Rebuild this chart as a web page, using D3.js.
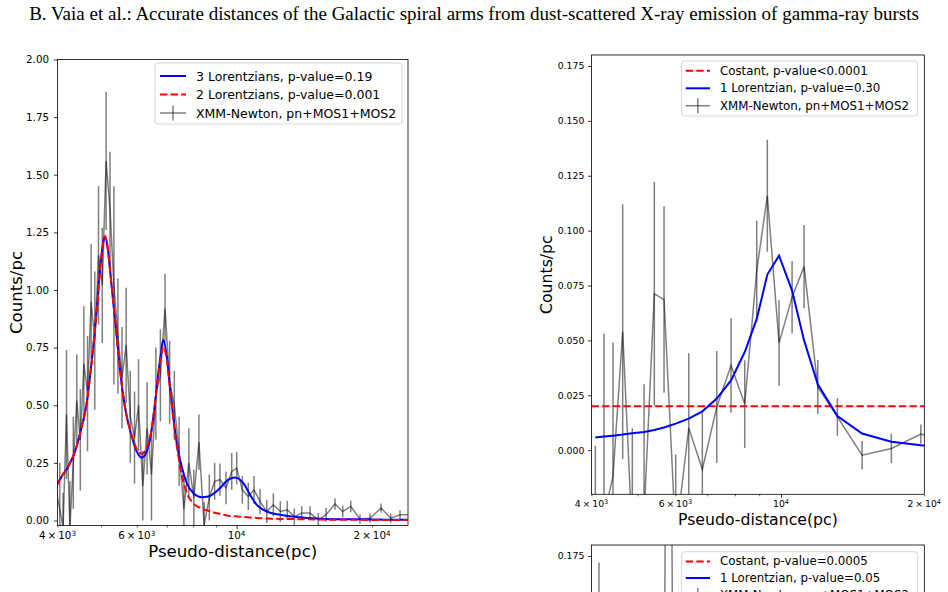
<!DOCTYPE html>
<meta charset="utf-8">
<style>

body {
  margin: 0;
  background: #fff;
}

svg {
  display: block;
  font-family: "DejaVu Sans", sans-serif;
}

.title {
  font-family: "Liberation Serif", "Times New Roman", serif;
}

</style>
<svg width="948" height="592"></svg>
<script src="https://d3js.org/d3.v7.min.js"></script>
<script>

// Left panel: XMM-Newton profile, fitted with 2 and 3 Lorentzians
var leftDist = [3980, 4047, 4116, 4188, 4262, 4337, 4415, 4495, 4578, 4664, 4751, 4841, 4934,
  5030, 5129, 5233, 5338, 5449, 5564, 5683, 5805, 5932, 6054, 6188, 6326, 6470,
  6617, 6771, 6934, 7099, 7271, 7452, 7637, 7831, 8035, 8247, 8470, 8698, 8937,
  9184, 9472, 9754, 10006, 10298, 10618, 10933, 11274, 11668, 12068, 12506, 12962, 13435,
  13954, 14560, 15192, 15808, 16547, 17213, 17930, 18805, 19791, 20945, 22002, 23075, 24400];
var leftCounts = [0.12, 0.05, -0.03, 0.46, -0.03, 0.25, 0.52, 0.35, 0.68, 0.55, 0.95, 0.78, 1.15,
  1.02, 1.56, 1.35, 1.02, 0.80, 0.62, 0.76, 0.45, 0.36, 0.50, 0.15, 0.40, 0.20,
  0.55, 0.63, 0.92, 0.60, 0.50, 0.30, 0.05, 0.25, 0.10, 0.34, -0.02, 0.10, 0.17,
  0.177, 0.141, 0.213, 0.227, 0.133, 0.104, 0.133, 0.083, 0.039, 0.068, 0.039, 0.046, 0.017,
  0.032, 0.032, 0.003, 0.025, 0.072, 0.039, 0.061, 0.006, 0.010, 0.054, 0.010, 0.025, 0.025];
var leftErr = [0.12, 0.2, 0.15, 0.28, 0.2, 0.2, 0.2, 0.22, 0.25, 0.25, 0.25, 0.3, 0.3,
  0.25, 0.3, 0.25, 0.43, 0.25, 0.22, 0.25, 0.2, 0.2, 0.2, 0.15, 0.2, 0.2,
  0.2, 0.2, 0.15, 0.18, 0.15, 0.15, 0.15, 0.15, 0.12, 0.12, 0.1, 0.1, 0.08,
  0.07, 0.07, 0.08, 0.07, 0.06, 0.06, 0.06, 0.055, 0.05, 0.05, 0.045, 0.04, 0.035,
  0.03, 0.03, 0.03, 0.03, 0.025, 0.025, 0.025, 0.02, 0.02, 0.02, 0.02, 0.02, 0.02];

var leftFitDist = [3980, 4087, 4227, 4375, 4528, 4645, 4724, 4805, 4890, 4972, 5040, 5101, 5165,
  5233, 5322, 5416, 5508, 5602, 5701, 5848, 5999, 6154, 6314, 6477, 6588, 6700,
  6793, 6873, 6994, 7113, 7234, 7362, 7552, 7748, 8013, 8365, 8653, 9107, 9587,
  9920, 10351, 10712, 11086, 11665, 12490, 13603, 15323, 18145, 24100];
var leftFit3 = [0.15, 0.191, 0.234, 0.30, 0.408, 0.51, 0.625, 0.755, 0.914, 1.088, 1.19, 1.233, 1.19,
  1.088, 0.944, 0.799, 0.654, 0.538, 0.451, 0.365, 0.30, 0.273, 0.30, 0.394, 0.51, 0.64,
  0.727, 0.784, 0.712, 0.58, 0.451, 0.336, 0.234, 0.162, 0.119, 0.101, 0.104, 0.133, 0.177,
  0.187, 0.162, 0.112, 0.068, 0.039, 0.025, 0.015, 0.008, 0.005, 0.003];
var leftFit2 = [0.15, 0.191, 0.234, 0.30, 0.408, 0.51, 0.625, 0.755, 0.914, 1.088, 1.19, 1.233, 1.19,
  1.088, 0.944, 0.799, 0.654, 0.538, 0.451, 0.37, 0.31, 0.29, 0.315, 0.40, 0.51, 0.63,
  0.71, 0.755, 0.70, 0.57, 0.44, 0.325, 0.20, 0.12, 0.075, 0.052, 0.042, 0.030, 0.021,
  0.018, 0.015, 0.013, 0.011, 0.009, 0.007, 0.006, 0.004, 0.003, 0.002];

var leftLegend = ["3 Lorentzians, p-value=0.19", "2 Lorentzians, p-value=0.001", "XMM-Newton, pn+MOS1+MOS2"];

// Right panel: constant vs 1 Lorentzian
var rightDist = [4075, 4249, 4438, 4651, 4873, 5158, 5420, 5681, 6011, 6403, 6837, 7331,
  7855, 8393, 8894, 9362, 9907, 10552, 11182, 11948, 13137, 14803, 17056, 19666, 21500];
var rightCounts = [-0.03, -0.03, -0.012, 0.054, -0.04, -0.03, 0.0712, 0.0686, -0.04, 0.0101, -0.0088, 0.0197,
  0.0386, 0.021, 0.0818, 0.1159, 0.0488, 0.0697, 0.0836, 0.0288, 0.0152, -0.0023, 0.0008, 0.0073, 0.005];
var rightErr = [0.032, 0.083, 0.061, 0.058, 0.05, 0.06, 0.051, 0.0425, 0.038, 0.034, 0.026, 0.0255,
  0.0215, 0.02, 0.0227, 0.0255, 0.0195, 0.0165, 0.019, 0.0123, 0.0086, 0.0065, 0.0067, 0.0044, 0.004];
var rightFit1 = [0.0058, 0.0062, 0.0066, 0.0071, 0.0077, 0.0083, 0.0092, 0.0103, 0.0121, 0.0144, 0.0177, 0.0235,
  0.0318, 0.0447, 0.0598, 0.080, 0.0886, 0.0727, 0.050, 0.030, 0.0155, 0.0076, 0.0038, 0.0022, 0.0017];
var rightConst = 0.02;

var rightLegend = ["Costant, p-value<0.0001", "1 Lorentzian, p-value=0.30", "XMM-Newton, pn+MOS1+MOS2"];

// Lower right panel, only its top edge fits on the page
var lowDist = [4147, 4420, 5660, 5800, 5960];
var lowCounts = [0.12, 0.03, 0.04, 0.42, 0.05];
var lowErr = [0.052, 0.05, 0.04, 0.2, 0.04];
var lowLegend = ["Costant, p-value=0.0005", "1 Lorentzian, p-value=0.05", "XMM-Newton, pn+MOS1+MOS2"];

// log axis ticks
var xLabelled = [4000, 6000, 10000, 20000];
var xMant = ["4", "6", "", "2"];
var xExp = ["3", "3", "4", "4"];
var xMinor = [4000, 5000, 6000, 7000, 8000, 9000, 20000];
var xMajor = [10000];

var leftYTicks = [0, 0.25, 0.5, 0.75, 1.0, 1.25, 1.5, 1.75, 2.0];
var rightYTicks = [0, 0.025, 0.05, 0.075, 0.1, 0.125, 0.15, 0.175];
var lowYTicks = [0.175];

var title = "B. Vaia et al.: Accurate distances of the Galactic spiral arms from dust-scattered X-ray emission of gamma-ray bursts";

var svg = d3.select("svg");

svg.append("text")
    .attr("class", "title")
    .attr("x", 474)
    .attr("y", 20)
    .attr("text-anchor", "middle")
    .style("font-size", "19px")
    .text(title);

var panelCount = 0;

function panel(o) {
  var id = "clip" + (panelCount++);
  var g = svg.append("g");
  var x = d3.scaleLog().domain(o.xDomain).range([o.left, o.right]);
  var y = d3.scaleLinear().domain(o.yDomain).range([o.bottom, o.top]);

  svg.append("clipPath").attr("id", id).append("rect")
      .attr("x", o.left).attr("y", o.top)
      .attr("width", o.right - o.left).attr("height", o.bottom - o.top);

  var plot = g.append("g").attr("clip-path", "url(#" + id + ")");

  // error bars
  plot.append("g").selectAll("line")
    .data(o.dist)
    .enter().append("line")
      .attr("x1", function(d) { return x(d); })
      .attr("x2", function(d) { return x(d); })
      .attr("y1", function(d, i) { return y(o.counts[i] - o.err[i]); })
      .attr("y2", function(d, i) { return y(o.counts[i] + o.err[i]); })
      .attr("stroke", "#000")
      .attr("stroke-opacity", 0.5)
      .attr("stroke-width", o.lw);

  var line = d3.line()
      .x(function(d) { return x(d[0]); })
      .y(function(d) { return y(d[1]); });

  plot.append("path")
      .attr("d", line(d3.zip(o.dist, o.counts)))
      .attr("fill", "none")
      .attr("stroke", "#000")
      .attr("stroke-opacity", 0.5)
      .attr("stroke-width", o.lw);

  o.curves.forEach(function(c) {
    var pts = d3.zip(c.dist, c.vals);
    plot.append("path")
        .attr("d", (c.smooth ? line.curve(d3.curveMonotoneX) : line.curve(d3.curveLinear))(pts))
        .attr("fill", "none")
        .attr("stroke", c.color)
        .attr("stroke-width", 2)
        .attr("stroke-dasharray", c.dash ? "7.4,3.2" : null);
  });

  // frame
  g.append("rect")
      .attr("x", o.left).attr("y", o.top)
      .attr("width", o.right - o.left).attr("height", o.bottom - o.top)
      .attr("fill", "none")
      .attr("stroke", "#000")
      .attr("stroke-width", 0.8);

  // y axis
  var ya = g.append("g")
      .attr("transform", "translate(" + o.left + ",0)")
      .call(d3.axisLeft(y).tickValues(o.yTicks).tickFormat(d3.format(o.yFmt)).tickSize(3.5).tickPadding(o.pad));
  ya.select(".domain").remove();
  ya.selectAll("text").style("font-family", "DejaVu Sans").style("font-size", o.tickFs + "px");
  ya.selectAll("line").attr("stroke-width", 0.8);

  if (o.xAxis) {
    // x axis, minor and major ticks, labels with superscripts
    var xa = g.append("g")
        .attr("transform", "translate(0," + o.bottom + ")")
        .call(d3.axisBottom(x).tickValues(xMinor.concat(xMajor)).tickFormat("").tickSize(2));
    xa.select(".domain").remove();
    xa.selectAll(".tick line")
        .attr("y2", function(d) { return xMajor.indexOf(d) >= 0 ? 3.5 : 2; })
        .attr("stroke-width", function(d) { return xMajor.indexOf(d) >= 0 ? 0.8 : 0.6; });

    var lab = g.append("g").selectAll("text")
      .data(xLabelled)
      .enter().append("text")
        .attr("x", function(d) { return x(d); })
        .attr("y", o.bottom + o.xLabDy)
        .attr("text-anchor", "middle")
        .style("font-size", o.tickFs + "px");
    lab.append("tspan")
        .text(function(d, i) { return (xMant[i] ? xMant[i] + "\u2009\u00d7\u2009" : "") + "10"; });
    lab.append("tspan")
        .attr("dy", "-0.42em")
        .style("font-size", "0.7em")
        .text(function(d, i) { return xExp[i]; });

    // axis titles
    g.append("text")
        .attr("x", (o.left + o.right) / 2)
        .attr("y", o.xTitleY)
        .attr("text-anchor", "middle")
        .style("font-size", o.labFs + "px")
        .text("Pseudo-distance(pc)");

    g.append("text")
        .attr("transform", "translate(" + o.yTitleX + "," + (o.top + o.bottom) / 2 + ") rotate(-90)")
        .attr("text-anchor", "middle")
        .attr("dominant-baseline", "central")
        .style("font-size", o.labFs + "px")
        .text("Counts/pc");
  }

  // legend
  var L = o.legend;
  var lg = g.append("g");
  lg.append("rect")
      .attr("x", L.x).attr("y", L.y)
      .attr("width", L.w).attr("height", L.h)
      .attr("rx", 3)
      .attr("fill", "#fff")
      .attr("fill-opacity", 0.8)
      .attr("stroke", "#d6d6d6")
      .attr("stroke-width", 1);

  var entries = lg.selectAll("g.entry")
    .data(L.labels)
    .enter().append("g")
      .attr("class", "entry")
      .attr("transform", function(d, i) { return "translate(0," + L.rows[i] + ")"; });

  entries.append("text")
      .attr("x", L.textX)
      .attr("dominant-baseline", "central")
      .style("font-size", L.fs + "px")
      .text(function(d) { return d; });

  entries.each(function(d, i) {
    var e = d3.select(this);
    var s = L.styles[i];
    if (s === "bars") {
      e.append("line").attr("x1", L.h0).attr("x2", L.h1)
          .attr("stroke", "#000").attr("stroke-opacity", 0.5).attr("stroke-width", o.lw);
      e.append("line").attr("x1", (L.h0 + L.h1) / 2).attr("x2", (L.h0 + L.h1) / 2)
          .attr("y1", -7.5).attr("y2", 7.5)
          .attr("stroke", "#000").attr("stroke-opacity", 0.5).attr("stroke-width", o.lw);
    } else {
      e.append("line").attr("x1", L.h0).attr("x2", L.h1)
          .attr("stroke", s === "red" ? "#ff0000" : "#0000ff")
          .attr("stroke-width", 2)
          .attr("stroke-dasharray", s === "red" ? "7.4,3.2" : null);
    }
  });
}

panel({
  left: 57.5, right: 408, top: 59.5, bottom: 525.5,
  xDomain: [4000, 24035], yDomain: [-0.0217, 2.0],
  yTicks: leftYTicks, yFmt: ".2f", pad: 5, tickFs: 10.3, labFs: 16.6,
  xAxis: true, xLabDy: 13.5, xTitleY: 557, yTitleX: 16, lw: 1.5,
  dist: leftDist, counts: leftCounts, err: leftErr,
  curves: [
    {dist: leftFitDist, vals: leftFit3, color: "#0000ff", smooth: true},
    {dist: leftFitDist, vals: leftFit2, color: "#ff0000", dash: true, smooth: true}
  ],
  legend: {x: 155, y: 63, w: 247, h: 61, rows: [76, 94.5, 113], h0: 160, h1: 186, textX: 196,
    fs: 12.5, labels: leftLegend, styles: ["blue", "red", "bars"]}
});

panel({
  left: 591.5, right: 924.3, top: 55, bottom: 494.3,
  xDomain: [4000, 20000], yDomain: [-0.0201, 0.18],
  yTicks: rightYTicks, yFmt: ".3f", pad: 3.7, tickFs: 9.3, labFs: 15.7,
  xAxis: true, xLabDy: 12.8, xTitleY: 525, yTitleX: 546, lw: 1.5,
  dist: rightDist, counts: rightCounts, err: rightErr,
  curves: [
    {dist: [4000, 20000], vals: [rightConst, rightConst], color: "#ff0000", dash: true},
    {dist: rightDist, vals: rightFit1, color: "#0000ff"}
  ],
  legend: {x: 681.7, y: 61, w: 236, h: 55, rows: [70.7, 88.3, 105.7], h0: 685.7, h1: 710, textX: 720,
    fs: 11.8, labels: rightLegend, styles: ["red", "blue", "bars"]}
});

// lower panel: its axes titles and x labels lie below the page
panel({
  left: 591.5, right: 924.3, top: 545, bottom: 984.3,
  xDomain: [4000, 20000], yDomain: [-0.0201, 0.18],
  yTicks: lowYTicks, yFmt: ".3f", pad: 3.7, tickFs: 9.3, labFs: 15.7,
  xAxis: false, lw: 1.5,
  dist: lowDist, counts: lowCounts, err: lowErr,
  curves: [],
  legend: {x: 681.7, y: 551.7, w: 236, h: 55, rows: [561.4, 578, 595.4], h0: 685.7, h1: 710, textX: 720,
    fs: 11.8, labels: lowLegend, styles: ["red", "blue", "bars"]}
});

</script>
